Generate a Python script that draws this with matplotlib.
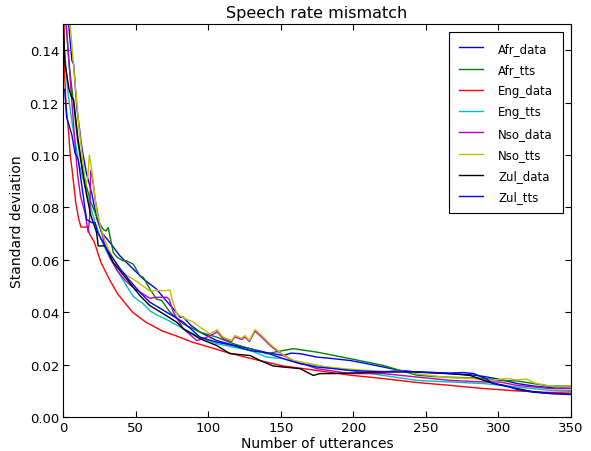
import matplotlib
matplotlib.use("Agg")
import matplotlib.pyplot as plt

# ---- data ----
afr_data_x = [3.7, 6, 7.2, 9.4, 12.9, 16, 19.6, 23, 26.5, 32.2, 39.1, 46, 55.2, 64.4, 70, 75.9, 80.5, 82.8, 88,
              94.3, 105.8, 117, 128.8, 140.3, 151.7, 157, 163.2, 174.8, 186, 197.7, 209.2, 220.7, 232.2, 244,
              256, 267, 280, 290, 300, 313, 325, 337, 350]
afr_data_y = [0.150, 0.136, 0.1345, 0.118, 0.1025, 0.093, 0.0855, 0.076, 0.0704, 0.0666, 0.0615, 0.0577, 0.0527,
              0.0488, 0.045, 0.0413, 0.0381, 0.0381, 0.035, 0.0324, 0.0292, 0.0275, 0.0261, 0.0246, 0.0235, 0.0244,
              0.0242, 0.0229, 0.0223, 0.0216, 0.0204, 0.0191, 0.0178, 0.0172, 0.017, 0.0165, 0.0162, 0.0155,
              0.0145, 0.0128, 0.0118, 0.0112, 0.011]

afr_tts_x = [2, 4, 6, 8, 10, 13, 16, 19, 22, 25, 27.6, 29.5, 31, 34.5, 37, 41.4, 43.7, 48.3, 52.9, 55.2, 59.8,
             64.4, 67.9, 73.6, 82.8, 94.3, 105.8, 117.2, 128.8, 140.3, 151.7, 158.6, 174.8, 197.7, 220.7, 232.2,
             243.7, 255, 266.7, 290, 301, 312.7, 324, 335.6, 349.5]
afr_tts_y = [0.15, 0.135, 0.125, 0.115, 0.105, 0.095, 0.088, 0.082, 0.078, 0.074, 0.0716, 0.071, 0.0723, 0.0628,
             0.061, 0.0596, 0.0596, 0.0583, 0.0539, 0.0533, 0.0488, 0.045, 0.0445, 0.040, 0.0355, 0.0324, 0.0305,
             0.028, 0.0261, 0.0242, 0.0254, 0.0261, 0.0248, 0.0223, 0.0197, 0.0178, 0.016, 0.0155, 0.0152,
             0.0148, 0.014, 0.0138, 0.0128, 0.0118, 0.0119]

eng_data_x = [0.5, 1, 1.9, 3.7, 4.8, 6, 8.6, 10.5, 12.2, 16.8, 18, 21.4, 26, 31.7, 37.5, 47.8, 57, 68.5, 77.8,
              89, 100.7, 112, 126, 151.7, 174.8, 197.7, 220.7, 243.7, 266.7, 289.7, 312.7, 335.6, 349.5]
eng_data_y = [0.15, 0.13, 0.119, 0.1088, 0.100, 0.0949, 0.082, 0.076, 0.0725, 0.0725, 0.070, 0.0668, 0.059,
              0.0527, 0.047, 0.040, 0.0362, 0.0328, 0.031, 0.0286, 0.0267, 0.0248, 0.0228, 0.0195, 0.0178, 0.016,
              0.0147, 0.0132, 0.0121, 0.0109, 0.0100, 0.0094, 0.0096]

eng_tts_x = [1, 3, 6, 8.3, 10.6, 14, 18, 22, 26, 30, 36.8, 43.7, 48.3, 55.2, 59.8, 64.4, 71.3, 82.8, 94.3, 105.8,
             117.2, 128.8, 140.3, 151.7, 163.2, 174.8, 197.7, 220.7, 243.7, 266.7, 289.7, 312.7, 335.6, 349.5]
eng_tts_y = [0.14, 0.125, 0.1126, 0.105, 0.0974, 0.09, 0.082, 0.074, 0.068, 0.063, 0.0564, 0.050, 0.046, 0.0432,
             0.0405, 0.039, 0.0372, 0.0337, 0.0305, 0.028, 0.0267, 0.0254, 0.0229, 0.0223, 0.0204, 0.0197,
             0.0178, 0.0159, 0.014, 0.0134, 0.0128, 0.0115, 0.0102, 0.0102]

nso_data_x = [2, 4, 6, 8, 10, 12, 15, 17.2, 18.2, 19, 20, 22, 25, 28, 32, 37, 43, 49, 55, 59.8, 64.4, 71.3, 73,
              75.9, 82.8, 92, 96.6, 101, 104.6, 106, 110, 116, 118.4, 123, 125.3, 128.3, 132.2, 136.8, 143.7,
              151.7, 158.6, 174.8, 197.7, 220.7, 243.7, 266.7, 289.7, 301, 312.7, 335.6, 349.5]
nso_data_y = [0.15, 0.135, 0.12, 0.105, 0.092, 0.084, 0.078, 0.0705, 0.076, 0.094, 0.092, 0.083, 0.074, 0.067,
              0.061, 0.056, 0.052, 0.049, 0.047, 0.0453, 0.0457, 0.0457, 0.045, 0.040, 0.0337, 0.0292, 0.0299,
              0.031, 0.032, 0.0326, 0.0300, 0.0288, 0.0306, 0.0296, 0.0306, 0.0288, 0.0328, 0.0305, 0.0268,
              0.0235, 0.0216, 0.0185, 0.0166, 0.0166, 0.0153, 0.014, 0.0134, 0.0134, 0.0121, 0.0109, 0.0109]

nso_tts_x = [4.8, 7, 9, 11, 13, 15.5, 17, 18, 19, 21, 23, 26, 29, 33, 38, 44, 50, 55, 60, 64.4, 70, 73.6, 75,
             78.2, 84, 89.7, 95, 101, 104.6, 106, 110, 116, 118.4, 123, 125.3, 128.3, 132.2, 136.8, 143.7, 150.6,
             158.6, 170, 181.7, 193, 209, 223, 232, 244, 253, 266.7, 280, 294, 305.8, 312, 319.6, 325, 333.4,
             340, 349.5]
nso_tts_y = [0.15, 0.135, 0.122, 0.11, 0.10, 0.088, 0.092, 0.100, 0.097, 0.088, 0.079, 0.072, 0.067, 0.062,
             0.057, 0.054, 0.052, 0.050, 0.048, 0.0484, 0.0482, 0.0484, 0.045, 0.0394, 0.0375, 0.0363, 0.034,
             0.0318, 0.0328, 0.0333, 0.0306, 0.0292, 0.0311, 0.0301, 0.0311, 0.0292, 0.0334, 0.0311, 0.0273,
             0.0242, 0.0216, 0.0204, 0.0191, 0.0185, 0.0178, 0.0175, 0.0178, 0.0165, 0.0159, 0.0150, 0.0148,
             0.014, 0.0147, 0.0142, 0.0145, 0.013, 0.0121, 0.0115, 0.012]

zul_data_x = [0, 1.2, 4, 5.8, 7.2, 10, 13, 16, 19, 23, 24.1, 28.8, 34.5, 43.7, 52.9, 59.8, 69, 78.2, 82.8, 94.3,
              105.8, 115, 128.8, 135.7, 144.8, 151.7, 163.2, 172.4, 177, 186.2, 197.7, 220.7, 243.7, 255.2,
              266.7, 280.5, 290, 296.6, 312.7, 324, 335.6, 350]
zul_data_y = [0.15, 0.135, 0.125, 0.122, 0.121, 0.107, 0.095, 0.085, 0.077, 0.0704, 0.0653, 0.0653, 0.059,
              0.0527, 0.0463, 0.0425, 0.0394, 0.0362, 0.0337, 0.0299, 0.0273, 0.0242, 0.0235, 0.0216, 0.0195,
              0.0191, 0.0185, 0.0159, 0.0166, 0.0166, 0.0168, 0.0172, 0.0172, 0.0168, 0.0166, 0.0159, 0.014,
              0.0128, 0.0109, 0.0097, 0.009, 0.0088]

zul_tts_x = [1, 2.3, 6, 8.1, 10.3, 13.8, 16.1, 19.6, 21.9, 24, 27.6, 30, 35, 40, 46, 53, 59.8, 71.3, 82.8, 94.3,
             105.8, 117.2, 128.8, 140, 151.7, 163.2, 174.8, 186.2, 197.7, 209.2, 220.7, 232, 244, 255, 266.7,
             276, 283, 290, 296, 305, 313, 324, 336, 350]
zul_tts_y = [0.125, 0.1146, 0.1075, 0.1007, 0.0982, 0.0843, 0.0754, 0.0742, 0.0742, 0.070, 0.0666, 0.064,
             0.060, 0.056, 0.052, 0.0475, 0.0438, 0.040, 0.0362, 0.0305, 0.0286, 0.0273, 0.0254, 0.0245, 0.0223,
             0.0204, 0.0191, 0.0185, 0.0178, 0.0175, 0.0172, 0.0176, 0.0172, 0.017, 0.0168, 0.0170, 0.0166,
             0.015, 0.013, 0.012, 0.0105, 0.0095, 0.009, 0.0086]

series = [
    ("Afr_data", afr_data_x, afr_data_y, "#0000ff"),
    ("Afr_tts", afr_tts_x, afr_tts_y, "#008000"),
    ("Eng_data", eng_data_x, eng_data_y, "#ff0000"),
    ("Eng_tts", eng_tts_x, eng_tts_y, "#00bfbf"),
    ("Nso_data", nso_data_x, nso_data_y, "#bf00bf"),
    ("Nso_tts", nso_tts_x, nso_tts_y, "#bfbf00"),
    ("Zul_data", zul_data_x, zul_data_y, "#000000"),
    ("Zul_tts", zul_tts_x, zul_tts_y, "#0000ff"),
]

x_ticks = [0, 50, 100, 150, 200, 250, 300, 350]
y_ticks = [0.00, 0.02, 0.04, 0.06, 0.08, 0.10, 0.12, 0.14]

plt.rcParams['font.family'] = ['DejaVu Sans']
fig = plt.figure(figsize=(5.91, 4.52), dpi=100)
ax = fig.add_axes([0.107, 0.075, 0.859, 0.870])

for name, xs, ys, col in series:
    ax.plot(xs, ys, color=col, lw=1.0, label=name)

ax.set_xlim(0, 350)
ax.set_ylim(0, 0.15)
ax.set_xticks(x_ticks)
ax.set_yticks(y_ticks)
ax.set_yticklabels([f"{v:.2f}" for v in y_ticks])
ax.tick_params(direction='in', top=True, right=True, labelsize=9.5, length=4, pad=3)
ax.set_xlabel("Number of utterances", fontsize=10, labelpad=1)
ax.set_ylabel("Standard deviation", fontsize=10, labelpad=4)
ax.set_title("Speech rate mismatch", fontsize=11.5, pad=5)

leg = ax.legend(loc='upper right', fontsize=8.5, frameon=True, fancybox=False, framealpha=1,
                edgecolor='black', handlelength=2.0, handletextpad=1.3, labelspacing=0.7,
                borderpad=0.85, borderaxespad=0.65)
leg.get_frame().set_linewidth(0.8)

fig.savefig("out.png", dpi=100)
